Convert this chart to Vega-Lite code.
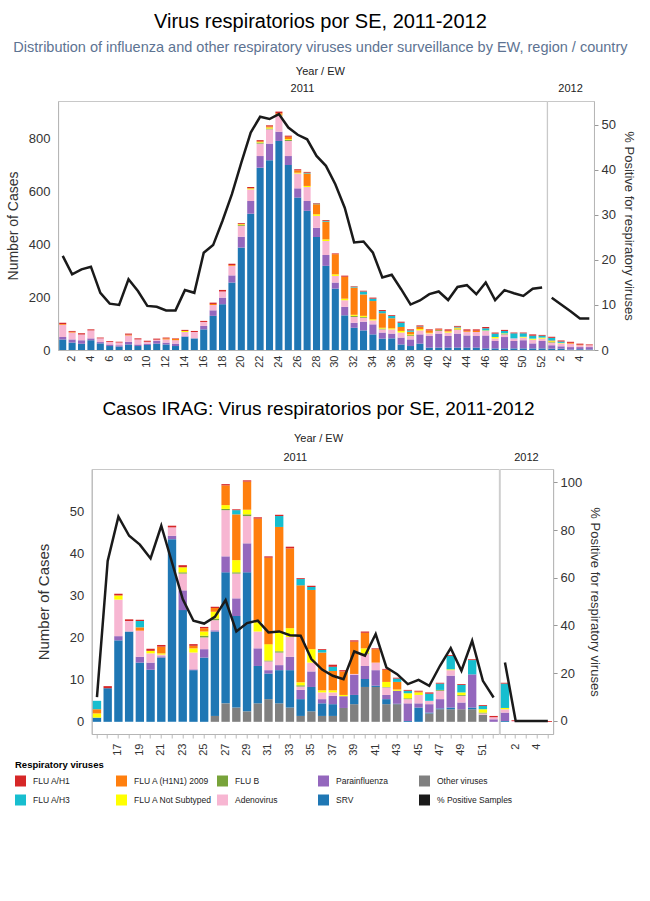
{
"$schema": "https://vega.github.io/schema/vega-lite/v6.json",
"padding": {"left": 5, "right": 5, "top": 12, "bottom": 5},
"datasets": {
"names": [
{"k":"O","virus":"Other viruses","ord":1},
{"k":"S","virus":"SRV","ord":2},
{"k":"P","virus":"Parainfluenza","ord":3},
{"k":"A","virus":"Adenovirus","ord":4},
{"k":"B","virus":"FLU B","ord":5},
{"k":"N","virus":"FLU A Not Subtyped","ord":6},
{"k":"X","virus":"FLU A (H1N1) 2009","ord":7},
{"k":"H3","virus":"FLU A/H3","ord":8},
{"k":"H1","virus":"FLU A/H1","ord":9}
],
"top": [
{"yr":"2011","wk":1,"S":40,"P":9,"A":46,"X":3,"H1":5,"pct":20.9},
{"yr":"2011","wk":2,"S":28,"P":12,"A":26,"X":3,"H1":3,"pct":16.8},
{"yr":"2011","wk":3,"S":24,"P":13,"A":22,"H1":4,"pct":17.9},
{"yr":"2011","wk":4,"S":37,"P":7,"A":30,"H1":4,"pct":18.5},
{"yr":"2011","wk":5,"S":25,"P":5,"A":14,"H1":3,"pct":12.7},
{"yr":"2011","wk":6,"S":15,"P":6,"A":10,"H1":3,"pct":10.3},
{"yr":"2011","wk":7,"S":13,"P":5,"A":10,"H1":3,"pct":10.0},
{"yr":"2011","wk":8,"S":21,"P":10,"A":24,"X":3,"H1":4,"pct":15.7},
{"yr":"2011","wk":9,"S":15,"P":6,"A":19,"H1":4,"pct":13.1},
{"yr":"2011","wk":10,"S":19,"P":5,"A":7,"H1":4,"pct":9.8},
{"yr":"2011","wk":11,"S":24,"P":10,"A":5,"H1":4,"pct":9.6},
{"yr":"2011","wk":12,"S":21,"P":7,"A":12,"X":4,"H1":3,"pct":8.8},
{"yr":"2011","wk":13,"S":15,"P":9,"A":13,"X":5,"H1":2,"pct":8.8},
{"yr":"2011","wk":14,"S":50,"P":2,"A":16,"N":4,"H1":4,"pct":13.3},
{"yr":"2011","wk":15,"S":44,"A":24,"H1":4,"pct":12.7},
{"yr":"2011","wk":16,"S":78,"P":13,"A":15,"H1":4,"pct":21.6},
{"yr":"2011","wk":17,"S":129,"P":21,"A":20,"X":4,"H1":5,"pct":23.3},
{"yr":"2011","wk":18,"S":173,"P":25,"A":23,"H1":6,"pct":28.7},
{"yr":"2011","wk":19,"S":255,"P":27,"A":36,"X":3,"H1":5,"pct":34.6},
{"yr":"2011","wk":20,"S":387,"P":41,"A":41,"B":3,"N":3,"X":2,"H1":3,"pct":41.6},
{"yr":"2011","wk":21,"S":515,"P":48,"A":44,"N":4,"H1":5,"pct":48.3},
{"yr":"2011","wk":22,"S":689,"P":44,"A":47,"B":4,"N":2,"X":3,"H1":4,"pct":51.8},
{"yr":"2011","wk":23,"S":717,"P":63,"A":54,"B":3,"N":4,"X":4,"H1":4,"pct":51.3},
{"yr":"2011","wk":24,"S":790,"P":35,"A":60,"B":2,"N":2,"X":6,"H1":6,"pct":52.4},
{"yr":"2011","wk":25,"S":699,"P":34,"A":57,"B":4,"N":3,"X":9,"H1":4,"pct":49.4},
{"yr":"2011","wk":26,"S":576,"P":35,"A":56,"N":3,"X":9,"H1":4,"pct":47.8},
{"yr":"2011","wk":27,"S":526,"P":37,"A":53,"N":4,"X":47,"H3":3,"H1":3,"pct":46.8},
{"yr":"2011","wk":28,"S":427,"P":35,"A":45,"N":6,"X":38,"H3":2,"H1":2,"pct":43.1},
{"yr":"2011","wk":29,"S":318,"P":41,"A":53,"N":6,"X":67,"H3":3,"H1":3,"pct":40.9},
{"yr":"2011","wk":30,"S":232,"P":23,"A":25,"N":6,"X":76,"H1":3,"pct":36.8},
{"yr":"2011","wk":31,"S":131,"P":32,"A":25,"N":6,"X":83,"H1":4,"pct":31.6},
{"yr":"2011","wk":32,"S":84,"P":19,"A":22,"B":4,"N":4,"X":103,"H3":3,"H1":2,"pct":23.9},
{"yr":"2011","wk":33,"S":74,"P":33,"A":15,"B":3,"N":4,"X":81,"H3":11,"H1":3,"pct":24.1},
{"yr":"2011","wk":34,"S":59,"P":38,"A":15,"N":4,"X":69,"H3":9,"H1":4,"pct":21.6},
{"yr":"2011","wk":35,"S":43,"P":23,"A":12,"B":3,"N":3,"X":55,"H3":8,"H1":4,"pct":16.1},
{"yr":"2011","wk":36,"S":44,"P":18,"A":16,"N":4,"X":38,"H3":9,"H1":3,"pct":16.7},
{"yr":"2011","wk":37,"S":21,"P":26,"A":19,"N":6,"X":15,"H3":16,"H1":4,"pct":13.5},
{"yr":"2011","wk":38,"S":15,"P":25,"A":13,"B":3,"N":3,"X":10,"H3":5,"H1":4,"pct":10.1},
{"yr":"2011","wk":39,"S":24,"P":35,"A":15,"N":5,"X":8,"H3":2,"H1":4,"pct":11.0},
{"yr":"2011","wk":40,"S":9,"P":44,"A":10,"N":2,"X":9,"H1":4,"pct":12.4},
{"yr":"2011","wk":41,"S":9,"P":53,"A":10,"B":3,"X":3,"H1":3,"pct":13.0},
{"yr":"2011","wk":42,"S":9,"P":44,"A":13,"N":4,"X":3,"H1":5,"pct":11.1},
{"yr":"2011","wk":43,"S":9,"P":53,"A":14,"B":2,"N":4,"X":3,"H3":3,"H1":3,"pct":14.0},
{"yr":"2011","wk":44,"S":9,"P":46,"A":14,"X":4,"H1":5,"pct":14.4},
{"yr":"2011","wk":45,"S":9,"P":44,"A":15,"X":5,"H1":5,"pct":12.4},
{"yr":"2011","wk":46,"S":6,"P":49,"A":17,"N":2,"H3":8,"H1":5,"pct":15.0},
{"yr":"2011","wk":47,"S":6,"P":28,"A":10,"N":5,"H3":13,"H1":4,"pct":11.1},
{"yr":"2011","wk":48,"S":6,"P":43,"A":10,"B":2,"N":2,"H3":9,"H1":4,"pct":13.3},
{"yr":"2011","wk":49,"S":6,"P":28,"A":10,"H3":19,"H1":3,"pct":12.6},
{"yr":"2011","wk":50,"S":6,"P":31,"A":10,"N":3,"H3":13,"H1":3,"pct":12.0},
{"yr":"2011","wk":51,"S":6,"P":19,"A":14,"N":4,"H3":11,"H1":5,"pct":13.6},
{"yr":"2011","wk":52,"S":6,"P":28,"A":9,"N":4,"H3":7,"H1":3,"pct":13.9},
{"yr":"2012","wk":1,"S":5,"P":13,"A":10,"B":2,"N":3,"X":3,"H3":10,"H1":4,"pct":11.6},
{"yr":"2012","wk":2,"S":5,"P":9,"A":11,"N":2,"H3":5,"H1":4,"pct":10.1},
{"yr":"2012","wk":3,"S":2,"P":9,"A":13,"X":3,"H1":4,"pct":8.6},
{"yr":"2012","wk":4,"S":3,"P":8,"A":7,"X":2,"H1":4,"pct":7.0},
{"yr":"2012","wk":5,"S":2,"P":9,"A":7,"H1":3,"pct":7.0}
],
"bot": [
{"yr":"2011","wk":15,"S":1,"N":1,"X":1,"H3":2,"pct":10},
{"yr":"2011","wk":16,"S":8,"H1":0.5,"pct":67.1},
{"yr":"2011","wk":17,"S":19.4,"P":1,"A":8.7,"N":1,"H1":0.4,"pct":85.6},
{"yr":"2011","wk":18,"S":21.5,"A":2.5,"H1":0.4,"pct":77.6},
{"yr":"2011","wk":19,"S":14.1,"P":1.4,"A":6.2,"X":0.8,"H3":1.5,"H1":0.3,"pct":73.9},
{"yr":"2011","wk":20,"S":12.4,"P":1.7,"A":2.2,"N":0.6,"H1":0.5,"pct":68.1},
{"yr":"2011","wk":21,"S":15.3,"P":0.3,"A":0.4,"N":0.3,"X":1.6,"H1":0.4,"pct":81.8},
{"yr":"2011","wk":22,"S":43.5,"P":0.8,"A":2,"H1":0.4,"pct":66.4},
{"yr":"2011","wk":23,"S":26.6,"P":4.7,"A":4,"B":0.3,"N":1.2,"H1":0.5,"pct":51.1},
{"yr":"2011","wk":24,"S":12.3,"P":0.2,"A":4,"N":1,"X":0.6,"H1":0.4,"pct":42.0},
{"yr":"2011","wk":25,"S":15.3,"P":2,"A":2.8,"B":0.4,"N":1,"X":0.8,"H1":0.3,"pct":40.8},
{"yr":"2011","wk":26,"O":1.4,"S":20.1,"P":0.3,"A":2.4,"B":0.4,"N":1.6,"X":0.9,"H1":0.3,"pct":43.6},
{"yr":"2011","wk":27,"O":4.4,"S":31.2,"P":3.8,"A":11,"B":0.3,"N":0.9,"X":4.7,"H1":0.3,"pct":50.6},
{"yr":"2011","wk":28,"O":3.4,"S":21.8,"P":4.2,"A":5.9,"B":0.3,"N":2.9,"X":10.9,"H3":1,"H1":0.2,"pct":37.5},
{"yr":"2011","wk":29,"O":2.5,"S":33.1,"P":6.9,"A":6.5,"B":0.4,"N":1.1,"X":6.7,"H1":0.3,"pct":41.0},
{"yr":"2011","wk":30,"O":4.4,"S":8.9,"P":4.2,"A":4,"N":2.2,"X":24.7,"H1":0.3,"pct":42.0},
{"yr":"2011","wk":31,"O":5.4,"S":6.1,"P":0.8,"A":2.1,"B":0.2,"N":3.9,"X":20.6,"H1":0.3,"pct":37.1},
{"yr":"2011","wk":32,"O":4.4,"S":7.9,"P":1.2,"A":3,"B":0.3,"N":4.5,"X":25.1,"H3":2.6,"H1":0.3,"pct":37.5},
{"yr":"2011","wk":33,"O":3.4,"S":8.9,"P":3.2,"A":4.7,"N":2.1,"X":19,"H1":0.4,"pct":35.9},
{"yr":"2011","wk":34,"O":1.4,"S":4,"P":2.2,"A":0.8,"B":0.3,"N":0.7,"X":23.1,"H3":1.5,"H1":0.2,"pct":35.7},
{"yr":"2011","wk":35,"O":2.5,"S":5.8,"P":3.7,"A":2.1,"N":3.2,"X":14.1,"H3":0.7,"H1":0.3,"pct":25.9},
{"yr":"2011","wk":36,"O":1.4,"S":3,"P":1,"A":1.6,"N":0.5,"X":9,"H3":0.6,"H1":0.2,"pct":21.5},
{"yr":"2011","wk":37,"O":1.4,"S":2.8,"P":2,"A":0.8,"N":0.5,"X":4.6,"H3":1,"H1":0.5,"pct":18.9},
{"yr":"2011","wk":38,"O":3.3,"P":2.8,"N":0.3,"X":5.6,"H1":0.3,"pct":17.5},
{"yr":"2011","wk":39,"O":4.2,"S":2.2,"P":4.8,"A":0.2,"X":7.7,"H1":0.3,"pct":29.1},
{"yr":"2011","wk":40,"O":8.3,"S":1.9,"P":3.1,"A":2.8,"B":0.2,"N":1.2,"X":3.7,"H1":0.3,"pct":27.3},
{"yr":"2011","wk":41,"O":8.3,"S":0.3,"P":3.7,"A":1.8,"X":3.2,"H1":0.2,"pct":36.4},
{"yr":"2011","wk":42,"O":4.2,"S":1.2,"P":1,"A":1.8,"B":0.1,"N":1.2,"X":2.9,"H1":0.2,"pct":22.4},
{"yr":"2011","wk":43,"O":4.2,"S":0.1,"P":3.1,"N":0.3,"X":1.8,"H3":0.8,"H1":0.2,"pct":19.6},
{"yr":"2011","wk":44,"S":0.2,"P":4.2,"A":1,"B":0.2,"N":1.2,"H3":0.6,"H1":0.2,"pct":15.4},
{"yr":"2011","wk":45,"S":3.4,"P":1,"A":2,"N":0.6,"X":0.2,"H1":0.2,"pct":17.2},
{"yr":"2011","wk":46,"O":2,"S":0.2,"P":2,"A":0.8,"H3":1.7,"H1":0.3,"pct":14.7},
{"yr":"2011","wk":47,"O":3,"S":0.2,"P":2.2,"A":2,"B":0.2,"H3":1.5,"H1":0.2,"pct":23.1},
{"yr":"2011","wk":48,"O":3,"S":0.4,"P":7.6,"A":1.3,"N":0.2,"H3":3.2,"H1":0.2,"pct":30.5},
{"yr":"2011","wk":49,"O":3,"P":1.6,"A":1.6,"B":0.2,"N":0.6,"H3":1.8,"H1":0.2,"pct":21.0},
{"yr":"2011","wk":50,"O":3,"S":0.4,"P":7.9,"H3":3.4,"H1":0.2,"pct":33.6},
{"yr":"2011","wk":51,"O":1.7,"A":0.3,"B":0.2,"N":0.8,"H3":0.8,"H1":0.2,"pct":16.8},
{"yr":"2011","wk":52,"P":0.6,"A":0.5,"H1":0.3,"pct":9.8},
{"yr":"2012","wk":1,"S":0.2,"P":2,"A":0.8,"N":0.3,"H3":5.8,"H1":0.2,"pct":24.5},
{"yr":"2012","wk":2,"A":0.2,"H1":0.2,"pct":0},
{"yr":"2012","wk":3,"pct":0},
{"yr":"2012","wk":4,"pct":0},
{"yr":"2012","wk":5,"H1":0.2,"pct":0}
]
},
"vconcat": [
{
"title": {"text": "Virus respiratorios por SE, 2011-2012", "subtitle": "Distribution of influenza and other respiratory viruses under surveillance by EW, region / country", "anchor": "middle", "fontSize": 20, "subtitleFontSize": 14.5, "subtitleColor": "#5d7392", "subtitlePadding": 9, "offset": 11},
"vconcat": [
{
"title": {"text": "Year  /  EW", "anchor": "middle", "fontSize": 11, "color": "#222", "offset": 6},
"spacing": 0,
"bounds": "flush",
"hconcat": [
{
"width": {"step": 9.4}, "height": 249,
"title": {"text": "2011", "frame": "group", "anchor": "middle", "fontSize": 11, "color": "#222", "offset": 7},
"data": {"name": "top"},
"transform": [{"filter": "datum.yr == '2011'"}],
"layer": [
{
"transform": [{"fold": ["O","S","P","A","B","N","X","H3","H1"], "as": ["k","cases"]}, {"filter": "datum.cases > 0"}, {"lookup": "k", "from": {"data": {"name": "names"}, "key": "k", "fields": ["virus","ord"]}}],
"mark": {"type": "bar"},
"encoding": {
"x": {"field": "wk", "type": "ordinal", "scale": {"paddingInner": 0.25, "paddingOuter": 0.12}, "axis": {"title": null, "labelAngle": -90, "labelFontSize": 11, "ticks": false, "labelPadding": 5, "labelExpr": "datum.value % 2 == 0 ? datum.label : ''"}},
"y": {"field": "cases", "type": "quantitative", "stack": "zero", "scale": {"domain": [0, 941], "nice": false}, "axis": {"title": "Number of Cases", "values": [0,200,400,600,800], "ticks": false, "labelFontSize": 13, "labelPadding": 8, "titleFontSize": 14, "titlePadding": 8}},
"color": {"field": "virus", "type": "nominal", "title": "Respiratory viruses", "scale": {"domain": ["FLU A/H1","FLU A (H1N1) 2009","FLU B","Parainfluenza","Other viruses","FLU A/H3","FLU A Not Subtyped","Adenovirus","SRV","% Positive Samples"], "range": ["#d62728","#ff7f0e","#78a33a","#9467bd","#808080","#17becf","#ffff00","#f7b6d2","#1f77b4","#1a1a1a"]}},
"order": {"field": "ord", "type": "quantitative"}
}
},
{
"mark": {"type": "line", "color": "#1a1a1a", "strokeWidth": 2.5},
"encoding": {
"x": {"field": "wk", "type": "ordinal"},
"y": {"field": "pct", "type": "quantitative", "scale": {"domain": [0, 55.3], "nice": false}, "axis": null}
}
}
],
"resolve": {"scale": {"y": "independent"}}
},
{
"width": {"step": 9.4}, "height": 249,
"title": {"text": "2012", "frame": "group", "anchor": "middle", "fontSize": 11, "color": "#222", "offset": 7},
"data": {"name": "top"},
"transform": [{"filter": "datum.yr == '2012'"}],
"layer": [
{
"transform": [{"fold": ["O","S","P","A","B","N","X","H3","H1"], "as": ["k","cases"]}, {"filter": "datum.cases > 0"}, {"lookup": "k", "from": {"data": {"name": "names"}, "key": "k", "fields": ["virus","ord"]}}],
"mark": {"type": "bar"},
"encoding": {
"x": {"field": "wk", "type": "ordinal", "scale": {"paddingInner": 0.25, "paddingOuter": 0.12}, "axis": {"title": null, "labelAngle": -90, "labelFontSize": 11, "ticks": false, "labelPadding": 5, "labelExpr": "datum.value % 2 == 0 ? datum.label : ''"}},
"y": {"field": "cases", "type": "quantitative", "stack": "zero", "scale": {"domain": [0, 941], "nice": false}, "axis": null},
"color": {"field": "virus", "type": "nominal", "title": "Respiratory viruses"},
"order": {"field": "ord", "type": "quantitative"}
}
},
{
"mark": {"type": "line", "color": "#1a1a1a", "strokeWidth": 2.5},
"encoding": {
"x": {"field": "wk", "type": "ordinal"},
"y": {"field": "pct", "type": "quantitative", "scale": {"domain": [0, 55.3], "nice": false}, "axis": {"orient": "right", "title": "% Positive for respiratory viruses", "values": [0,10,20,30,40,50], "tickSize": 4, "tickColor": "#999", "labelFontSize": 13, "labelPadding": 3, "titleFontSize": 13, "titlePadding": 6}}
}
}
],
"resolve": {"scale": {"y": "independent"}}
}
]
}
]
},
{
"title": {"text": "Casos IRAG: Virus respiratorios por SE, 2011-2012", "anchor": "middle", "fontSize": 19, "offset": 14},
"vconcat": [
{
"title": {"text": "Year  /  EW", "anchor": "middle", "fontSize": 11, "color": "#222", "offset": 8},
"spacing": 0,
"bounds": "flush",
"hconcat": [
{
"width": {"step": 10.72}, "height": 265,
"title": {"text": "2011", "frame": "group", "anchor": "middle", "fontSize": 11, "color": "#222", "offset": 6},
"data": {"name": "bot"},
"transform": [{"filter": "datum.yr == '2011'"}],
"layer": [
{
"transform": [{"fold": ["O","S","P","A","B","N","X","H3","H1"], "as": ["k","cases"]}, {"filter": "datum.cases > 0"}, {"lookup": "k", "from": {"data": {"name": "names"}, "key": "k", "fields": ["virus","ord"]}}],
"mark": {"type": "bar"},
"encoding": {
"x": {"field": "wk", "type": "ordinal", "scale": {"paddingInner": 0.22, "paddingOuter": 0.1}, "axis": {"title": null, "labelAngle": -90, "labelFontSize": 11, "tickSize": 4, "tickColor": "#bbb", "labelPadding": 5, "labelExpr": "(datum.value % 2 == 1 && datum.value > 16) ? datum.label : ''"}},
"y": {"field": "cases", "type": "quantitative", "stack": "zero", "scale": {"domain": [-2.9, 60.2], "nice": false, "zero": false}, "axis": {"title": "Number of Cases", "values": [0,10,20,30,40,50], "ticks": false, "labelFontSize": 13, "labelPadding": 8, "titleFontSize": 15, "titlePadding": 18}},
"color": {"field": "virus", "type": "nominal", "title": "Respiratory viruses"},
"order": {"field": "ord", "type": "quantitative"}
}
},
{
"mark": {"type": "line", "color": "#1a1a1a", "strokeWidth": 2.5},
"encoding": {
"x": {"field": "wk", "type": "ordinal"},
"y": {"field": "pct", "type": "quantitative", "scale": {"domain": [-5.5, 105.6], "nice": false, "zero": false}, "axis": null}
}
}
],
"resolve": {"scale": {"y": "independent"}}
},
{
"width": {"step": 10.72}, "height": 265,
"title": {"text": "2012", "frame": "group", "anchor": "middle", "fontSize": 11, "color": "#222", "offset": 6},
"data": {"name": "bot"},
"transform": [{"filter": "datum.yr == '2012'"}],
"layer": [
{
"transform": [{"fold": ["O","S","P","A","B","N","X","H3","H1"], "as": ["k","cases"]}, {"filter": "datum.cases > 0"}, {"lookup": "k", "from": {"data": {"name": "names"}, "key": "k", "fields": ["virus","ord"]}}],
"mark": {"type": "bar"},
"encoding": {
"x": {"field": "wk", "type": "ordinal", "scale": {"paddingInner": 0.22, "paddingOuter": 0.1}, "axis": {"title": null, "labelAngle": -90, "labelFontSize": 11, "tickSize": 4, "tickColor": "#bbb", "labelPadding": 5, "labelExpr": "datum.value % 2 == 0 ? datum.label : ''"}},
"y": {"field": "cases", "type": "quantitative", "stack": "zero", "scale": {"domain": [-2.9, 60.2], "nice": false, "zero": false}, "axis": null},
"color": {"field": "virus", "type": "nominal", "title": "Respiratory viruses"},
"order": {"field": "ord", "type": "quantitative"}
}
},
{
"mark": {"type": "line", "color": "#1a1a1a", "strokeWidth": 2.5},
"encoding": {
"x": {"field": "wk", "type": "ordinal"},
"y": {"field": "pct", "type": "quantitative", "scale": {"domain": [-5.5, 105.6], "nice": false, "zero": false}, "axis": {"orient": "right", "title": "% Positive for respiratory viruses", "values": [0,20,40,60,80,100], "tickSize": 4, "tickColor": "#999", "labelFontSize": 13, "labelPadding": 3, "titleFontSize": 13, "titlePadding": 6}}
}
}
],
"resolve": {"scale": {"y": "independent"}}
}
]
}
]
}
],
"spacing": 31,
"center": true,
"config": {
"font": "Liberation Sans",
"view": {"stroke": "#c8c8c8"},
"axis": {"grid": false, "domainColor": "#b5b5b5", "labelColor": "#333", "titleColor": "#333", "titleFontWeight": "normal", "labelFont": "Liberation Sans", "titleFont": "Liberation Sans"},
"title": {"font": "Liberation Sans", "fontWeight": "normal", "color": "#000", "subtitleFont": "Liberation Sans"},
"legend": {"orient": "none", "legendX": -43, "legendY": 659, "columns": 5, "direction": "horizontal", "symbolType": "square", "symbolSize": 121, "symbolStrokeWidth": 0, "symbolOpacity": 1, "labelFontSize": 8.5, "titleFontSize": 9.5, "titleFontWeight": "bold", "titleColor": "#000", "labelColor": "#222", "labelFont": "Liberation Sans", "titleFont": "Liberation Sans", "gridAlign": "all", "columnPadding": 5, "rowPadding": 8, "labelOffset": 7, "labelLimit": 200, "titlePadding": 6}
}
}
